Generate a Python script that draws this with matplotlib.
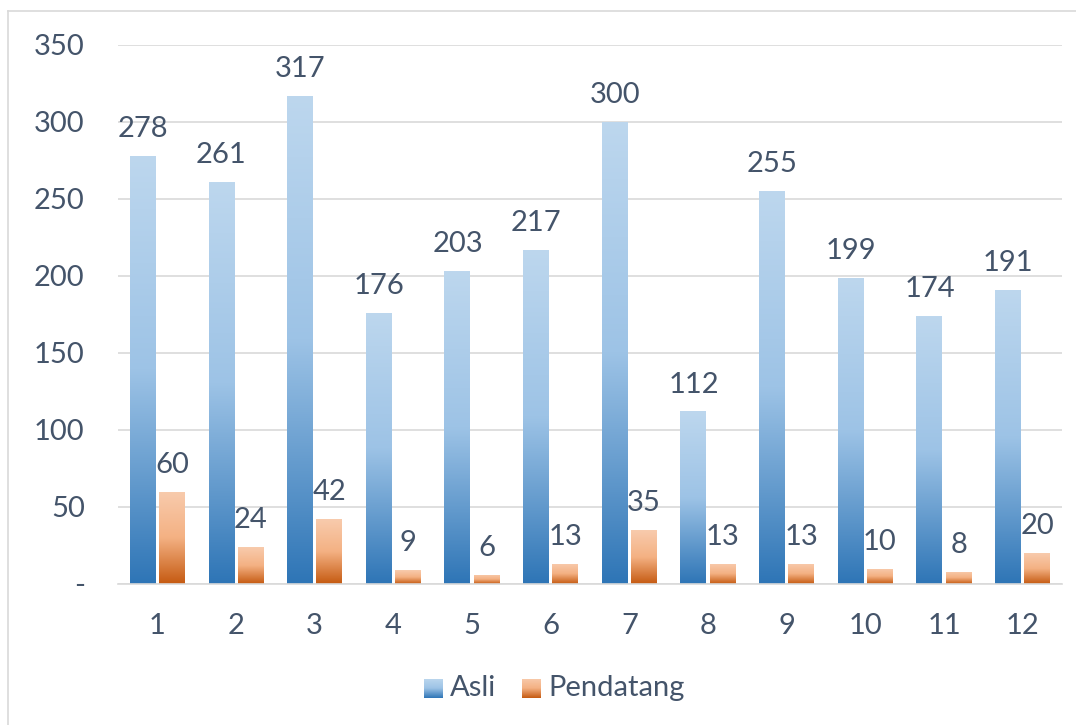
import numpy as np
import matplotlib.pyplot as plt
from matplotlib.colors import LinearSegmentedColormap
from matplotlib.lines import Line2D

plt.rcParams['font.family'] = ['Lato', 'DejaVu Sans']

# data
months = ['1', '2', '3', '4', '5', '6', '7', '8', '9', '10', '11', '12']
asli = [278, 261, 317, 176, 203, 217, 300, 112, 255, 199, 174, 191]
pendatang = [60, 24, 42, 9, 6, 13, 35, 13, 13, 10, 8, 20]

txt = '#44546A'
grid_c = '#D9D9D9'
cmap_asli = LinearSegmentedColormap.from_list('asli', ['#2E75B6', '#9DC3E6', '#BDD7EE'])
cmap_pend = LinearSegmentedColormap.from_list('pend', ['#C55A11', '#F4B183', '#F8CBAD'])

fig = plt.figure(figsize=(10.76, 7.25), dpi=100)
ax = fig.add_axes([0.1097, 0.1945, 0.8773, 0.7435])

x = np.arange(len(months))
w = 0.33
off = 0.185

grad = np.linspace(0, 1, 256).reshape(-1, 1)


def grad_bars(xpos, vals, cmap):
    bars = ax.bar(xpos, vals, w, color='none', edgecolor='none', zorder=2)
    for b in bars:
        x0, y0 = b.get_x(), b.get_y()
        im = ax.imshow(grad, cmap=cmap, aspect='auto', origin='lower',
                       extent=[x0, x0 + b.get_width(), y0, y0 + b.get_height()],
                       zorder=2)
        im.set_clip_path(b)
    for xi, v in zip(xpos, vals):
        ax.annotate(str(v), (xi, v), xytext=(0, 10), textcoords='offset points',
                    ha='center', va='bottom', fontsize=21, color=txt)
    return bars


grad_bars(x - off, asli, cmap_asli)
grad_bars(x + off, pendatang, cmap_pend)

ax.set_xlim(-0.5, len(months) - 0.5)
ax.set_ylim(0, 350)
ax.set_yticks(range(0, 351, 50))
ax.set_yticklabels(['-'] + [str(v) for v in range(50, 351, 50)])
ax.set_xticks(x)
ax.set_xticklabels(months)
ax.tick_params(length=0, labelsize=21, labelcolor=txt)
ax.tick_params(axis='y', pad=24)
ax.tick_params(axis='x', pad=21)
ax.grid(axis='y', color=grid_c, linewidth=1.2, zorder=0)
ax.set_axisbelow(True)
for s in ['top', 'right', 'left']:
    ax.spines[s].set_visible(False)
ax.spines['bottom'].set_color(grid_c)
ax.spines['bottom'].set_linewidth(1.2)

# legend with gradient squares
lx = [424, 522]
labels = ['Asli', 'Pendatang']
cmaps = [cmap_asli, cmap_pend]
for px, lab, cm in zip(lx, labels, cmaps):
    lax = fig.add_axes([px / 1076, (725 - 698) / 725, 19 / 1076, 19 / 725])
    lax.imshow(grad, cmap=cm, aspect='auto', origin='lower')
    lax.axis('off')
    fig.text((px + 26) / 1076, (725 - 688) / 725, lab, fontsize=21,
             color=txt, va='center', ha='left')

# outer border (left and top)
fig.add_artist(Line2D([8 / 1076, 8 / 1076], [0, 1 - 11 / 725],
                      transform=fig.transFigure, color=grid_c, linewidth=1.2))
fig.add_artist(Line2D([8 / 1076, 1], [1 - 11 / 725, 1 - 11 / 725],
                      transform=fig.transFigure, color=grid_c, linewidth=1.2))

fig.savefig('out.png', dpi=100)
